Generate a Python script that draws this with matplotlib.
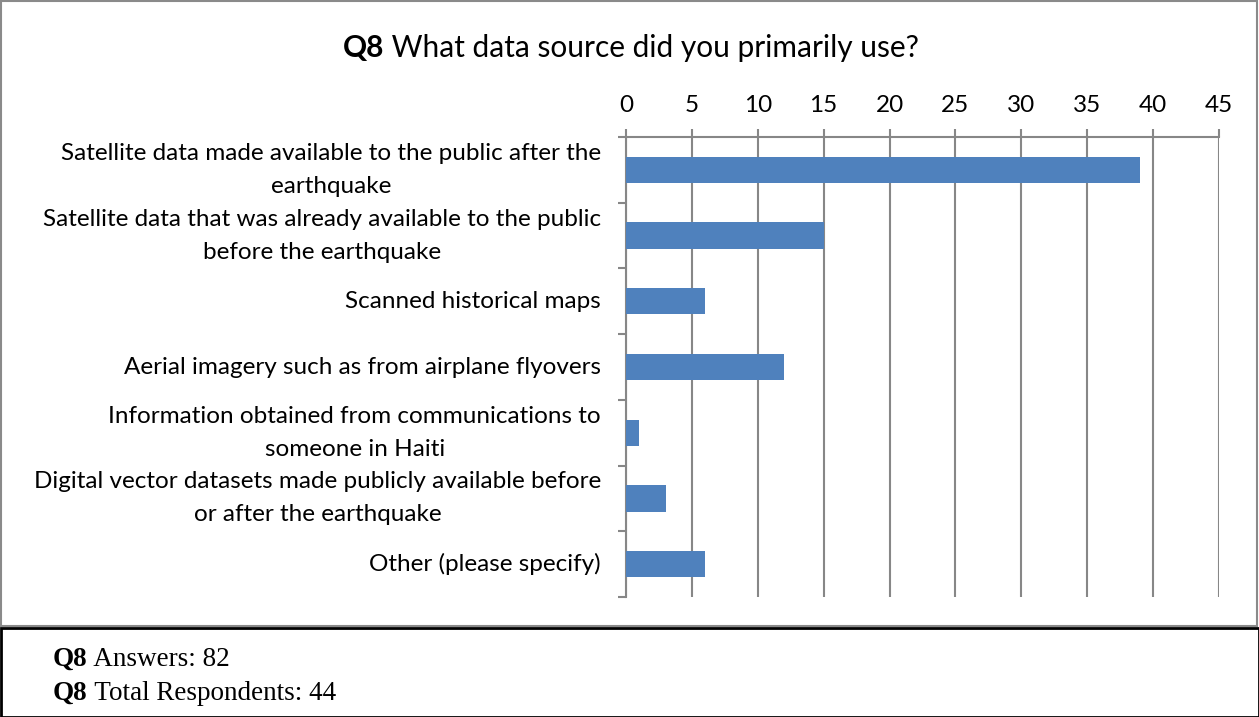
import matplotlib
matplotlib.use("Agg")
import matplotlib.pyplot as plt
from matplotlib.patches import Rectangle

categories = [
    "Satellite data made available to the public after the\nearthquake",
    "Satellite data that was already available to the public\nbefore the earthquake",
    "Scanned historical maps",
    "Aerial imagery such as from airplane flyovers",
    "Information obtained from communications to\nsomeone in Haiti",
    "Digital vector datasets made publicly available before\nor after the earthquake",
    "Other (please specify)",
]
counts = [39, 15, 6, 12, 1, 3, 6]
x_ticks = [0, 5, 10, 15, 20, 25, 30, 35, 40, 45]
title_bold = "Q8"
title_rest = " What data source did you primarily use?"
answers = 82
respondents = 44

W, H, DPI = 1259, 717, 100
fig = plt.figure(figsize=(W / DPI, H / DPI), dpi=DPI)

LABEL_FONT = ["Lato", "DejaVu Sans"]
SERIF = ["Liberation Serif", "DejaVu Serif"]
GRID = "#878787"
BAR = "#4F81BD"

ax = fig.add_axes([626 / W, 1 - 597 / H, (1219 - 626) / W, (597 - 137) / H])

pos = list(range(len(categories)))
ax.barh(pos, counts, height=0.4, color=BAR, zorder=3)

ax.set_xlim(0, 45)
ax.set_ylim(len(categories) - 0.5, -0.5)
ax.xaxis.tick_top()
ax.set_xticks(x_ticks)
ax.set_xticklabels([str(t) for t in x_ticks], fontsize=17.5, family=LABEL_FONT)
ax.tick_params(axis="x", length=6, width=1.5, color=GRID, pad=9)

# category labels centred in each band, tick marks on the band boundaries
ax.set_yticks(pos)
ax.set_yticklabels(categories, fontsize=17.5, family=LABEL_FONT,
                   ha="right", va="center", multialignment="center",
                   linespacing=1.7)
ax.tick_params(axis="y", which="major", length=0, pad=18)
ax.set_yticks([p - 0.5 for p in pos] + [len(categories) - 0.5], minor=True)
ax.tick_params(axis="y", which="minor", length=6, width=1.5, color=GRID)

ax.grid(axis="x", color=GRID, linewidth=1.5, zorder=1)
for s in ("right", "bottom"):
    ax.spines[s].set_visible(False)
for s in ("left", "top"):
    ax.spines[s].set_color(GRID)
    ax.spines[s].set_linewidth(1.5)

# chart frame and note box
fig.patches.append(Rectangle((1 / W, 1 - 626 / H), 1256 / W, 625 / H,
                             transform=fig.transFigure, fill=False,
                             edgecolor="#8a8a8a", linewidth=1.5))
fig.patches.append(Rectangle((1 / W, 0), 1258 / W, 89 / H,
                             transform=fig.transFigure, fill=False,
                             edgecolor="black", linewidth=2))

fig.canvas.draw()
renderer = fig.canvas.get_renderer()


def two_part(x, y, bold, rest, size, family, ha="left"):
    t1 = fig.text(x, y, bold, fontsize=size, fontweight="bold",
                  family=family, va="baseline")
    t2 = fig.text(x, y, rest, fontsize=size, family=family, va="baseline")
    w1 = t1.get_window_extent(renderer).width / W
    w2 = t2.get_window_extent(renderer).width / W
    x0 = x - (w1 + w2) / 2 if ha == "center" else x
    t1.set_x(x0)
    t2.set_x(x0 + w1)


two_part(631 / W, 1 - 57 / H, title_bold, title_rest, 21.5, LABEL_FONT, ha="center")
two_part(53 / W, 1 - 666 / H, "Q8", f" Answers: {answers}", 19.5, SERIF)
two_part(53 / W, 1 - 700 / H, "Q8", f" Total Respondents: {respondents}", 19.5, SERIF)

fig.savefig("out.png", dpi=DPI)
